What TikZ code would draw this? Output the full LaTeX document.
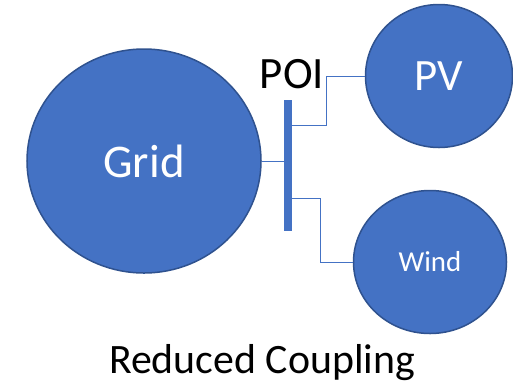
\documentclass[tikz,border=0pt]{standalone}
\usepackage{fontspec}
\setmainfont{Carlito}
\usetikzlibrary{shapes.geometric}
\definecolor{fillblue}{HTML}{4472C4}
\definecolor{edgeblue}{HTML}{2F528F}
\begin{document}
\begin{tikzpicture}[x=1bp,y=-1bp,
  bubble/.style={ellipse,draw=edgeblue,fill=fillblue,line width=1.5bp,inner sep=0pt,text=white},
  wire/.style={draw=fillblue,line width=1bp}]
\useasboundingbox (0,0) rectangle (513,382);
\node[bubble,minimum width=234bp,minimum height=224bp,font=\fontsize{47}{50}\selectfont] (grid) at (144,161) {Grid};
\node[bubble,minimum width=147bp,minimum height=143bp,font=\fontsize{45}{50}\selectfont] (pv) at (439,76) {PV};
\node[bubble,minimum width=153bp,minimum height=143bp,font=\fontsize{29}{32}\selectfont] (wind) at (430,262) {Wind};
\node[fill=fillblue,minimum width=8bp,minimum height=131bp,inner sep=0pt] (bus) at (288,165.5) {};
\node[font=\fontsize{45}{50}\selectfont,anchor=base] (poi) at (292,88) {POI};
\node[font=\fontsize{42}{44}\selectfont,anchor=base] (title) at (262,373) {Reduced Coupling};
\draw[wire] (grid.east) -- (bus.west |- grid.east);
\draw[wire] (bus.east |- 0,125) -| (326,76) -- (pv.west);
\draw[wire] (bus.east |- 0,198) -| (320,262) -- (wind.west);
\end{tikzpicture}
\end{document}
